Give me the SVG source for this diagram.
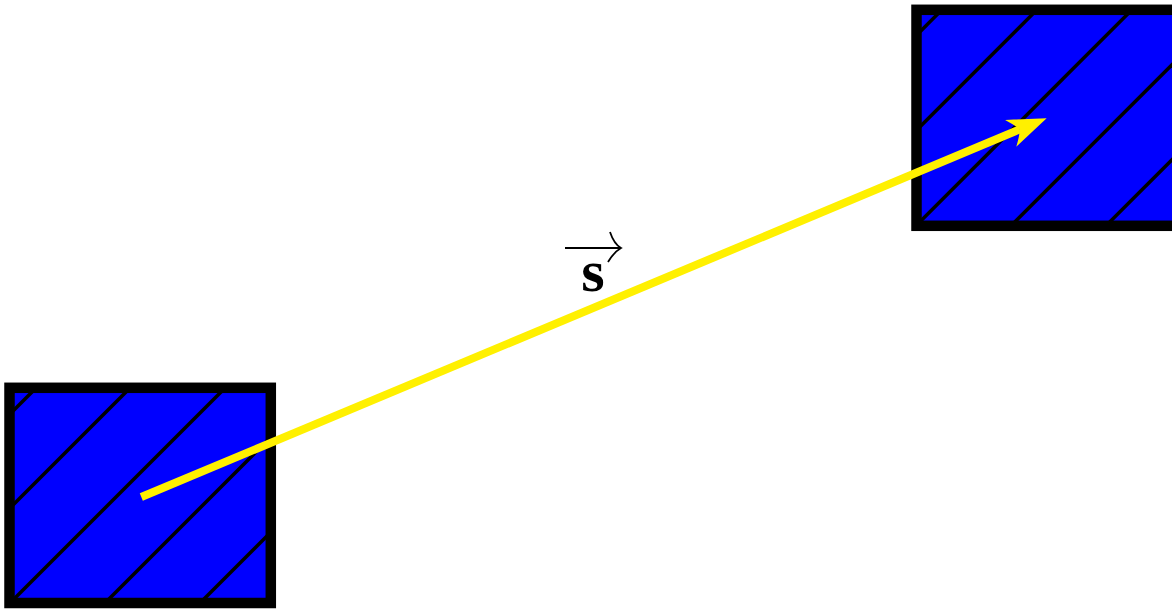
<svg xmlns="http://www.w3.org/2000/svg" width="1172" height="610" viewBox="0 0 1172 610">
<style>
.box{fill:#0000FF;stroke:none}
.border{fill:none;stroke:#000;stroke-width:10.5}
.hatch{stroke:#000;stroke-width:3.5;fill:none}
.vec{stroke:#FFF000;stroke-width:8;fill:none}
.lbl{font-family:"Liberation Serif",serif;font-weight:bold;font-size:60px;fill:#000}
.over{stroke:#000;stroke-width:1.8;fill:none}
</style>
<defs>
<clipPath id="clipL"><rect x="9.5" y="387.8" width="261.3" height="215.2"/></clipPath>
<clipPath id="clipR"><rect x="916.5" y="9.8" width="261" height="216"/></clipPath>
<marker id="head" markerUnits="userSpaceOnUse" orient="auto" refX="0" refY="0" markerWidth="44" markerHeight="32" viewBox="-12 -16 44 32" overflow="visible">
<path d="M29,0 L-10,-14.5 Q-3,-6 0,0 Q-3,6 -10,14.5 Z" fill="#FFF000"/>
</marker>
</defs>
<g id="boxA">
<rect class="box" x="9.5" y="387.8" width="261.3" height="215.2"/>
<g clip-path="url(#clipL)">
<line class="hatch" x1="0" y1="424" x2="300" y2="124"/>
<line class="hatch" x1="0" y1="518" x2="300" y2="218"/>
<line class="hatch" x1="0" y1="613" x2="300" y2="313"/>
<line class="hatch" x1="0" y1="708" x2="300" y2="408"/>
<line class="hatch" x1="0" y1="803" x2="300" y2="503"/>
</g>
<rect class="border" x="9.5" y="387.8" width="261.3" height="215.2"/>
</g>
<g id="boxB">
<rect class="box" x="916.5" y="9.8" width="261" height="216"/>
<g clip-path="url(#clipR)">
<line class="hatch" x1="900" y1="51.7" x2="1180" y2="-228.3"/>
<line class="hatch" x1="900" y1="146.7" x2="1180" y2="-133.3"/>
<line class="hatch" x1="900" y1="241.7" x2="1180" y2="-38.3"/>
<line class="hatch" x1="900" y1="336.7" x2="1180" y2="56.7"/>
<line class="hatch" x1="900" y1="431.7" x2="1180" y2="151.7"/>
<line class="hatch" x1="900" y1="526.7" x2="1180" y2="246.7"/>
</g>
<rect class="border" x="916.5" y="9.8" width="261" height="216"/>
</g>
<g id="connectors">
<line class="vec" x1="141.3" y1="497" x2="1019.9" y2="129.4" marker-end="url(#head)"/>
</g>
<g id="label">
<text class="lbl" x="593" y="290.5" text-anchor="middle">s</text>
<path class="over" d="M565,248 H620.5"/>
<path class="over" d="M610,232 Q614,244 621,248 Q614,252 608,262"/>
</g>
</svg>
